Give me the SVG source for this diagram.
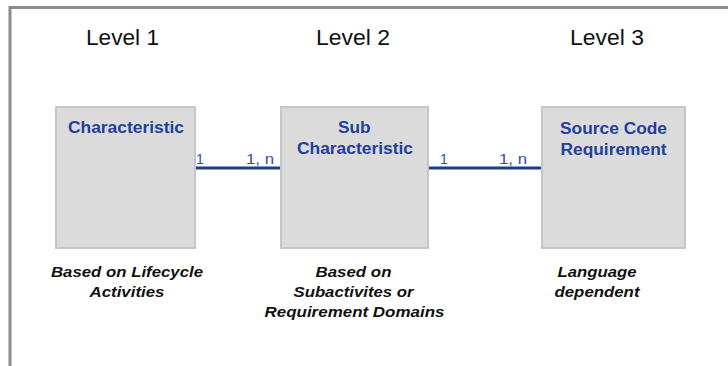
<svg xmlns="http://www.w3.org/2000/svg" width="728" height="366" viewBox="0 0 728 366">
<style>
.level{font-family:"Liberation Sans",Arial,sans-serif;font-size:22px;fill:#111}
.box{fill:#dbdbdb;stroke:#c6c6c6;stroke-width:2}
.title{font-family:"Liberation Sans",Arial,sans-serif;font-size:16px;font-weight:bold;fill:#22409a}
.mult{font-family:"Liberation Sans",Arial,sans-serif;font-size:14px;fill:#2b4ea8}
.note{font-family:"Liberation Sans",Arial,sans-serif;font-size:15px;font-weight:bold;font-style:italic;fill:#111}
.conn{stroke:#1f3b8c;stroke-width:3;fill:none}
</style>
<rect x="0" y="0" width="728" height="366" fill="#ffffff"/>
<path d="M10 366 V7.5 H728" fill="none" stroke="#8c8c8c" stroke-width="3"/>
<g id="levels">
<text class="level" x="86" y="45" textLength="73" lengthAdjust="spacingAndGlyphs">Level 1</text>
<text class="level" x="316" y="45" textLength="74" lengthAdjust="spacingAndGlyphs">Level 2</text>
<text class="level" x="570" y="45" textLength="74" lengthAdjust="spacingAndGlyphs">Level 3</text>
</g>
<g id="connectors">
<line class="conn" x1="195" y1="168" x2="281" y2="168"/>
<line class="conn" x1="428" y1="168" x2="542" y2="168"/>
<text class="mult" x="196" y="164">1</text>
<text class="mult" x="246" y="164" textLength="28" lengthAdjust="spacingAndGlyphs">1, n</text>
<text class="mult" x="440" y="164">1</text>
<text class="mult" x="499" y="164" textLength="28" lengthAdjust="spacingAndGlyphs">1, n</text>
</g>
<g id="characteristic">
<rect class="box" x="56" y="107" width="139" height="141"/>
<text class="title" x="68" y="133" textLength="116" lengthAdjust="spacingAndGlyphs">Characteristic</text>
<text class="note" x="51" y="277" textLength="152" lengthAdjust="spacingAndGlyphs">Based on Lifecycle</text>
<text class="note" x="89.5" y="297" textLength="75" lengthAdjust="spacingAndGlyphs">Activities</text>
</g>
<g id="sub-characteristic">
<rect class="box" x="281" y="107" width="147" height="141"/>
<text class="title" x="338" y="133" textLength="32.5" lengthAdjust="spacingAndGlyphs">Sub</text>
<text class="title" x="297" y="154" textLength="116" lengthAdjust="spacingAndGlyphs">Characteristic</text>
<text class="note" x="315.5" y="277" textLength="76" lengthAdjust="spacingAndGlyphs">Based on</text>
<text class="note" x="293.5" y="297" textLength="120" lengthAdjust="spacingAndGlyphs">Subactivites or</text>
<text class="note" x="264.5" y="317" textLength="180" lengthAdjust="spacingAndGlyphs">Requirement Domains</text>
</g>
<g id="source-code-requirement">
<rect class="box" x="542" y="107" width="143" height="141"/>
<text class="title" x="560" y="134" textLength="107" lengthAdjust="spacingAndGlyphs">Source Code</text>
<text class="title" x="560.5" y="155" textLength="106" lengthAdjust="spacingAndGlyphs">Requirement</text>
<text class="note" x="557.5" y="277" textLength="79" lengthAdjust="spacingAndGlyphs">Language</text>
<text class="note" x="554.5" y="297" textLength="85" lengthAdjust="spacingAndGlyphs">dependent</text>
</g>
</svg>
